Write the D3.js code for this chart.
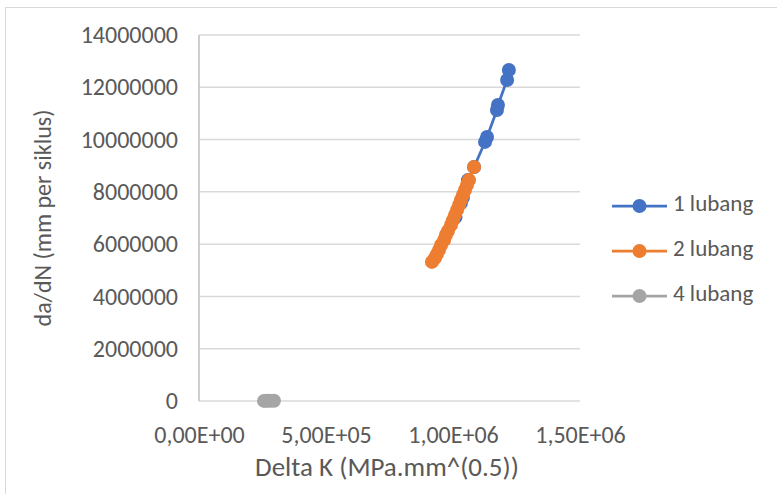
<!DOCTYPE html>
<html>
<head>
<meta charset="utf-8">
<script src="https://cdn.jsdelivr.net/npm/d3@7"></script>
<style>
  html, body { margin: 0; padding: 0; background: #fff; }
  svg text { font-family: Carlito, "Liberation Sans", Arial, sans-serif; fill: #595959; }
</style>
</head>
<body>
<svg id="chart" width="777" height="494"></svg>
<script>
// Crack growth rate vs stress intensity range, per number of holes
const seriesNames = ["1 lubang", "2 lubang", "4 lubang"];
const seriesColors = ["#4472C4", "#ED7D31", "#A5A5A5"];

const deltaK1 = [1.010e6, 1.031e6, 1.039e6, 1.059e6, 1.083e6, 1.126e6, 1.134e6, 1.173e6, 1.177e6, 1.213e6, 1.220e6];
const dadN1   = [7.04e6, 7.57e6, 7.77e6, 8.45e6, 8.95e6, 9.91e6, 10.10e6, 11.13e6, 11.32e6, 12.28e6, 12.66e6];

const deltaK2 = [0.917e6, 0.929e6, 0.937e6, 0.945e6, 0.953e6, 0.965e6, 0.972e6, 0.980e6, 0.992e6, 1.000e6,
                 1.008e6, 1.016e6, 1.024e6, 1.031e6, 1.039e6, 1.047e6, 1.055e6, 1.063e6, 1.083e6];
const dadN2   = [5.32e6, 5.47e6, 5.62e6, 5.78e6, 5.97e6, 6.16e6, 6.35e6, 6.50e6, 6.73e6, 6.92e6,
                 7.12e6, 7.31e6, 7.50e6, 7.69e6, 7.88e6, 8.07e6, 8.26e6, 8.45e6, 8.95e6];

const deltaK4 = [2.56e5, 2.68e5, 2.80e5, 2.95e5];
const dadN4   = [4000, 5000, 6000, 7000];

const xTicks = [0, 5e5, 1e6, 1.5e6];
const xTickLabels = ["0,00E+00", "5,00E+05", "1,00E+06", "1,50E+06"];
const yTicks = [0, 2e6, 4e6, 6e6, 8e6, 10e6, 12e6, 14e6];

const xTitle = "Delta K (MPa.mm^(0.5))";
const yTitle = "da/dN (mm per siklus)";

const fontStack = 'Carlito, "Liberation Sans", Arial, sans-serif';
const svg = d3.select("#chart");

// chart area frame
svg.append("rect")
  .attr("x", 5.5).attr("y", 7.5).attr("width", 800).attr("height", 520)
  .attr("fill", "#fff").attr("stroke", "#d9d9d9").attr("stroke-width", 1);

const x = d3.scaleLinear().domain([0, 1.5e6]).range([199, 580]);
const y = d3.scaleLinear().domain([0, 14e6]).range([401, 35]);

// horizontal gridlines
svg.append("g").selectAll("line").data(yTicks).join("line")
  .attr("x1", x(0)).attr("x2", x(1.5e6))
  .attr("y1", d => y(d)).attr("y2", d => y(d))
  .attr("stroke", "#d9d9d9").attr("stroke-width", 1.5);

// vertical axis line
svg.append("line")
  .attr("x1", x(0)).attr("x2", x(0)).attr("y1", y(14e6)).attr("y2", y(0))
  .attr("stroke", "#bfbfbf").attr("stroke-width", 1.5);

// y tick labels
const yAxis = d3.axisLeft(y).tickValues(yTicks).tickSize(0).tickPadding(21)
  .tickFormat(d => String(d));
const gy = svg.append("g").attr("transform", `translate(${x(0)},0)`).call(yAxis);
gy.select(".domain").remove();
gy.selectAll("text").attr("font-size", 24).attr("fill", "#595959")
  .style("font-family", fontStack);

// x tick labels
const xAxis = d3.axisBottom(x).tickValues(xTicks).tickSize(0).tickPadding(25)
  .tickFormat((d, i) => xTickLabels[i]);
const gx = svg.append("g").attr("transform", `translate(0,${y(0)})`).call(xAxis);
gx.select(".domain").remove();
gx.selectAll("text").attr("font-size", 24).attr("fill", "#595959")
  .style("font-family", fontStack);

// axis titles
svg.append("text")
  .attr("x", 387).attr("y", 470)
  .attr("text-anchor", "middle").attr("dominant-baseline", "middle")
  .attr("font-size", 27).text(xTitle);

svg.append("text")
  .attr("transform", `translate(45,${(y(0) + y(14e6)) / 2}) rotate(-90)`)
  .attr("text-anchor", "middle").attr("dominant-baseline", "middle")
  .attr("font-size", 24).text(yTitle);

// series: line then markers, later series drawn on top
const allSeries = [
  { xs: deltaK1, ys: dadN1 },
  { xs: deltaK2, ys: dadN2 },
  { xs: deltaK4, ys: dadN4 }
];
const line = d3.line().x(d => x(d[0])).y(d => y(d[1]));

allSeries.forEach((s, i) => {
  const pts = s.xs.map((v, j) => [v, s.ys[j]]);
  const g = svg.append("g");
  g.append("path").datum(pts).attr("d", line)
    .attr("fill", "none").attr("stroke", seriesColors[i]).attr("stroke-width", 2.75)
    .attr("stroke-linejoin", "round");
  g.selectAll("circle").data(pts).join("circle")
    .attr("cx", d => x(d[0])).attr("cy", d => y(d[1])).attr("r", 7)
    .attr("fill", seriesColors[i]);
});

// legend
const legend = svg.append("g");
const legendY = [206, 251, 296];
seriesNames.forEach((name, i) => {
  const gl = legend.append("g").attr("transform", `translate(0,${legendY[i]})`);
  gl.append("line").attr("x1", 612).attr("x2", 667).attr("y1", 0).attr("y2", 0)
    .attr("stroke", seriesColors[i]).attr("stroke-width", 2.75);
  gl.append("circle").attr("cx", 639.5).attr("cy", 0).attr("r", 7).attr("fill", seriesColors[i]);
  gl.append("text").attr("x", 673).attr("y", 0).attr("dominant-baseline", "middle")
    .attr("font-size", 23).text(name);
});
</script>
</body>
</html>
